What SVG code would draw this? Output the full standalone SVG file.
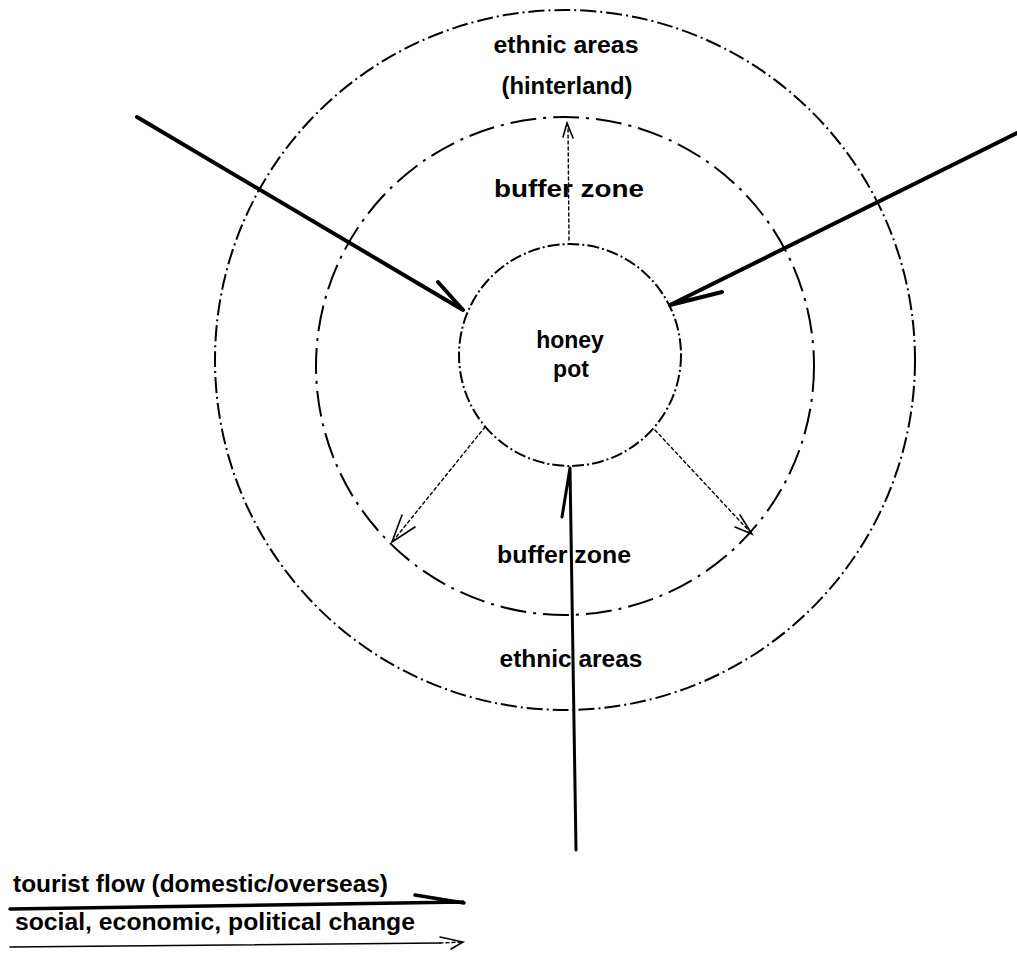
<svg xmlns="http://www.w3.org/2000/svg" width="1017" height="960" viewBox="0 0 1017 960">
<style>
.ring{fill:none;stroke:#000;stroke-width:2}
.outer{stroke-dasharray:16 4 2 4}
.mid{stroke-dasharray:26 7 3 7}
.inner{stroke-dasharray:12 3 2 3}
.flow{fill:none;stroke:#000;stroke-width:4;stroke-linecap:round;stroke-linejoin:round}
.change{fill:none;stroke:#000;stroke-width:1.4;stroke-dasharray:3 3;stroke-linecap:round}
.thin{fill:none;stroke:#000;stroke-width:1.6;stroke-linecap:round}
text{font-family:"Liberation Sans",Arial,sans-serif;font-weight:bold;font-size:23px;fill:#000}
.c{text-anchor:middle}
</style>
<rect width="1017" height="960" fill="#fff"/>
<g id="zone-ethnic">
<circle class="ring outer" cx="565" cy="360" r="350"/>
<text class="c" x="566" y="53" textLength="145" lengthAdjust="spacingAndGlyphs">ethnic areas</text>
<text class="c" x="567" y="94" textLength="131" lengthAdjust="spacingAndGlyphs">(hinterland)</text>
<text class="c" x="571" y="667" textLength="143" lengthAdjust="spacingAndGlyphs">ethnic areas</text>
</g>
<g id="zone-buffer">
<circle class="ring mid" cx="565" cy="366" r="249"/>
<text class="c" x="569" y="197" textLength="150" lengthAdjust="spacingAndGlyphs">buffer zone</text>
<text class="c" x="564" y="563" textLength="134" lengthAdjust="spacingAndGlyphs">buffer zone</text>
</g>
<g id="honey-pot">
<circle class="ring inner" cx="570" cy="355" r="111"/>
<text class="c" x="570" y="348">honey</text>
<text class="c" x="571" y="377">pot</text>
</g>
<g id="connectors">
<path class="flow" d="M137 117 L463 310 M438 282 L463 310"/>
<path class="flow" d="M1017 133 L670 305 L722 292"/>
<path class="flow" d="M576 850 L570 468 L562 517" style="stroke-width:3"/>
<path class="change" d="M569 240 L568 126"/>
<path class="thin" d="M563 137 L567 123 L573 138"/>
<path class="change" d="M485 427 L393 541"/>
<path class="thin" d="M402 515 L392 542 L415 527"/>
<path class="change" d="M655 430 L751 533"/>
<path class="thin" d="M740 515 L752 534 L735 527"/>
</g>
<g id="legend">
<text x="13" y="892" textLength="375" lengthAdjust="spacingAndGlyphs">tourist flow (domestic/overseas)</text>
<path class="flow" d="M10 909 L463 902 M415 895 L464 903" style="stroke-width:3.5"/>
<text x="15" y="930" textLength="400" lengthAdjust="spacingAndGlyphs">social, economic, political change</text>
<path class="thin" d="M10 947 L440 943"/>
<path class="change" d="M440 943 L462 942"/>
<path class="thin" d="M440 937 L463 942 L451 949"/>
</g>
</svg>
